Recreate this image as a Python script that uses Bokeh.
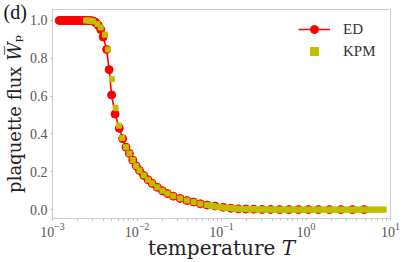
from bokeh.plotting import figure
from bokeh.models import FixedTicker, PrintfTickFormatter, Legend, LegendItem, Title, ColumnDataSource
from bokeh.embed import file_html
from bokeh.resources import INLINE

# ---- data ----
ed_T = [0.00120, 0.00126, 0.00132, 0.00138, 0.00145, 0.00152, 0.00160, 0.00168, 0.00176,
        0.00185, 0.00194, 0.00204, 0.00214, 0.00225, 0.00236, 0.00248, 0.00260, 0.00273,
        0.00287, 0.00301, 0.00316, 0.00332, 0.00348, 0.00372, 0.00398, 0.00437, 0.00468,
        0.00501, 0.00550, 0.00617, 0.00676, 0.00741, 0.00813, 0.00891, 0.00977, 0.0107,
        0.0120, 0.0135, 0.0151, 0.0174, 0.0200, 0.0229, 0.0269, 0.0324, 0.0389, 0.0468,
        0.0562, 0.0676, 0.0839, 0.105, 0.129, 0.158, 0.194, 0.241, 0.302, 0.382, 0.488,
        0.628, 0.816, 1.07, 1.40, 1.89, 2.59, 3.55, 4.87]
ed_W = [1.0, 1.0, 1.0, 1.0, 1.0, 1.0, 1.0, 1.0, 1.0,
        1.0, 1.0, 1.0, 1.0, 1.0, 1.0, 1.0, 1.0, 1.0,
        0.999, 0.997, 0.993, 0.985, 0.975, 0.952, 0.913, 0.847, 0.740,
        0.606, 0.505, 0.430, 0.375, 0.330, 0.297, 0.262, 0.231, 0.207,
        0.181, 0.158, 0.139, 0.118, 0.100, 0.085, 0.071, 0.059, 0.048, 0.040,
        0.031, 0.024, 0.019, 0.012, 0.007, 0.004, 0.003, 0.002, 0.001, 0.001, 0.0,
        0.0, 0.0, 0.0, 0.0, 0.0, 0.0, 0.0, 0.0]

kpm_T = [0.00250, 0.00265, 0.00280, 0.00300, 0.00340, 0.00372, 0.00418, 0.00453, 0.00505,
         0.00559, 0.00611, 0.00670, 0.00741, 0.00813, 0.00891, 0.00977, 0.0107, 0.0120,
         0.0135, 0.0151, 0.0174, 0.0200, 0.0229, 0.0269, 0.0324, 0.0389, 0.0468, 0.0562,
         0.0676, 0.075, 0.080, 0.086, 0.092, 0.099, 0.106, 0.114, 0.122, 0.131, 0.140,
         0.150, 0.161, 0.173, 0.185, 0.199, 0.213, 0.228, 0.245, 0.262, 0.281, 0.302,
         0.323, 0.347, 0.372, 0.398, 0.427, 0.458, 0.491, 0.526, 0.564, 0.605, 0.649,
         0.695, 0.746, 0.800, 0.857, 0.919, 0.986, 1.06, 1.13, 1.21, 1.30, 1.40, 1.50,
         1.60, 1.72, 1.84, 1.98, 2.12, 2.27, 2.44, 2.61, 2.80, 3.00, 3.22, 3.45, 3.70,
         3.97, 4.26, 4.56, 4.89, 5.25, 5.62, 6.03, 6.46, 6.93, 7.43, 7.97, 8.30]
kpm_W = [1.0, 1.0, 0.999, 0.996, 0.982, 0.963, 0.925, 0.847, 0.690,
         0.538, 0.444, 0.378, 0.330, 0.297, 0.262, 0.231, 0.207, 0.181,
         0.158, 0.139, 0.118, 0.100, 0.085, 0.071, 0.059, 0.048, 0.040, 0.031,
         0.024, 0.021, 0.019, 0.016, 0.014, 0.012, 0.011, 0.009, 0.008, 0.007, 0.006,
         0.005, 0.004, 0.004, 0.003, 0.003, 0.002, 0.002, 0.002, 0.001, 0.001, 0.001,
         0.001, 0.001, 0.001, 0.0, 0.0, 0.0, 0.0, 0.0, 0.0, 0.0, 0.0,
         0.0, 0.0, 0.0, 0.0, 0.0, 0.0, 0.0, 0.0, 0.0, 0.0, 0.0, 0.0,
         0.0, 0.0, 0.0, 0.0, 0.0, 0.0, 0.0, 0.0, 0.0, 0.0, 0.0, 0.0, 0.0,
         0.0, 0.0, 0.0, 0.0, 0.0, 0.0, 0.0, 0.0, 0.0, 0.0, 0.0, 0.0]

x_major = [1e-3, 1e-2, 1e-1, 1e0, 1e1]
y_major = [0.0, 0.2, 0.4, 0.6, 0.8, 1.0]
series_names = ["ED", "KPM"]
panel_tag = "(d)"
Y_TOP = 1.058

ed_src = ColumnDataSource(dict(T=ed_T, W=ed_W))
kpm_src = ColumnDataSource(dict(T=kpm_T, W=kpm_W))

p = figure(width=407, height=262, x_axis_type="log", x_range=(1e-3, 1e1), y_range=(-0.047, Y_TOP),
           output_backend="svg", toolbar_location=None,
           min_border_left=51, min_border_right=17, min_border_top=9, min_border_bottom=43)

RED = "#ff0000"
YEL = "#bfbf00"

line_r = p.line("T", "W", source=ed_src, line_color=RED, line_width=1.6)
ed_r = p.scatter("T", "W", source=ed_src, marker="circle", size=8, fill_color=RED, line_color=RED)
kpm_r = p.scatter("T", "W", source=kpm_src, marker="square", size=5, fill_color=YEL, line_color=YEL)

p.xgrid.visible = False
p.ygrid.visible = False
p.outline_line_color = "#cccccc"
p.outline_line_width = 1
p.background_fill_color = "white"
p.border_fill_color = "white"

minor = [m * d for d in x_major[:-1] for m in range(2, 10)]
p.xaxis.ticker = FixedTicker(ticks=x_major, minor_ticks=minor)
p.yaxis.ticker = FixedTicker(ticks=y_major)
p.yaxis.formatter = PrintfTickFormatter(format="%.1f")

for ax in (p.xaxis[0], p.yaxis[0]):
    ax.axis_line_color = None
    ax.major_tick_line_color = "#b8b8b8"
    ax.major_tick_in = 0
    ax.major_tick_out = 2
    ax.minor_tick_line_color = "#b8b8b8"
    ax.minor_tick_in = 0
    ax.minor_tick_out = 2
    ax.major_label_text_font = "Liberation Serif"
    ax.major_label_text_font_size = "14px"
    ax.major_label_text_color = "#555555"
    ax.axis_label_text_font = "DejaVu Serif"
    ax.axis_label_text_font_style = "normal"
    ax.axis_label_text_color = "#222222"
p.yaxis.minor_tick_line_color = None
p.xaxis.major_label_standoff = 2
p.xaxis.axis_label_standoff = -4
p.xaxis.axis_label_text_font_size = "20px"
p.yaxis.major_label_standoff = 3
p.yaxis.axis_label_standoff = 2
p.yaxis.axis_label_text_font_size = "18px"

p.xaxis.axis_label = "temperature \U0001D447"
p.yaxis.axis_label = "plaquette flux \U0001D44A\u0305\u209A"

legend = Legend(items=[LegendItem(label=series_names[0], renderers=[line_r, ed_r]),
                       LegendItem(label=series_names[1], renderers=[kpm_r])],
                location="top_right", border_line_alpha=0, background_fill_alpha=0,
                label_text_font="Liberation Serif", label_text_font_size="15px",
                label_text_color="#333333", label_width=37,
                glyph_width=32, glyph_height=20, spacing=2, padding=4, margin=6,
                label_standoff=13)
p.add_layout(legend)

tag = Title(text=panel_tag, align="left", offset=-49, standoff=-27, vertical_align="bottom",
            text_font="Liberation Serif", text_font_size="20px", text_font_style="normal",
            text_color="#111111")
p.add_layout(tag, "above")

open("out.html", "w").write(file_html(p, INLINE))
